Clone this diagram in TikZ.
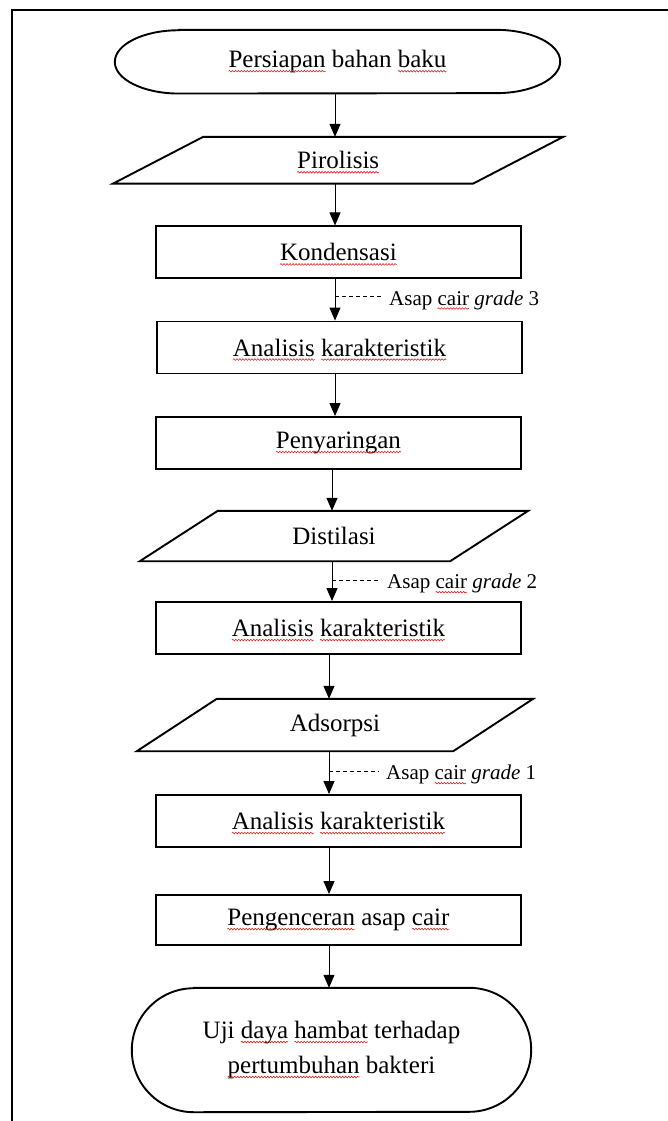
\documentclass[tikz,border=0pt]{standalone}
\usepackage{fontspec}
\setmainfont{Liberation Serif}
\usetikzlibrary{arrows.meta,decorations.pathmorphing,calc}
\definecolor{sqred}{RGB}{225,35,35}
\newlength\sqw
\newcommand\sq[1]{\settowidth\sqw{#1}\leavevmode\rlap{#1}\tikz[baseline=0pt]{\useasboundingbox (0pt,0pt) rectangle (\sqw,0pt);\draw[sqred,line width=0.6pt,decorate,decoration={snake,amplitude=0.8pt,segment length=3pt}] (0pt,-3.5pt) -- (\sqw,-3.5pt);}}
\begin{document}
\begin{tikzpicture}[x=1pt,y=-1pt,
  box/.style={draw,line width=1.9pt,minimum width=365pt,minimum height=52pt,inner sep=0pt,font=\fontsize{25}{30}\selectfont},
  txt/.style={inner sep=0pt,font=\fontsize{25}{30}\selectfont},
  shapeline/.style={line width=1.9pt,line join=miter},
  arr/.style={line width=1pt,-{Triangle[width=11pt,length=13pt]}},
  lbl/.style={inner sep=0pt,font=\fontsize{21}{25}\selectfont},
  dline/.style={line width=0.9pt,dash pattern=on 4pt off 3pt}]
\useasboundingbox (0,0) rectangle (668,1121);
\draw[line width=2pt] (12,1121) -- (12,10) -- (668,10);
% columns for arrows
\coordinate (c335) at (335,0);
\coordinate (c332) at (332,0);
\coordinate (c329) at (329,0);
% terminal 1
\node[txt,minimum width=445pt,minimum height=63.3pt] (t1) at (337.5,61.7) {\sq{Persiapan} bahan \sq{baku}};
\draw[shapeline] ([xshift=64pt]t1.north west) -- ([xshift=-64pt]t1.north east)
  arc[start angle=90,end angle=-90,x radius=64pt,y radius=31.65pt]
  -- ([xshift=64pt]t1.south west)
  arc[start angle=270,end angle=90,x radius=64pt,y radius=31.65pt] -- cycle;
% Pirolisis
\node[txt,minimum width=449.7pt,minimum height=46.3pt] (pir) at (338.2,160.2) {\sq{Pirolisis}};
\draw[shapeline] ([xshift=90pt]pir.north west) -- (pir.north east) -- ([xshift=-90pt]pir.south east) -- (pir.south west) -- cycle;
% boxes
\node[box] (kon) at (338.4,252.4) {\sq{Kondensasi}};
\node[box] (an1) at (339.5,347.5) {\sq{Analisis} \sq{karakteristik}};
\node[box] (pen) at (338.4,443) {\sq{Penyaringan}};
\node[txt,minimum width=388pt,minimum height=50pt] (dis) at (334,536) {Distilasi};
\draw[shapeline] ([xshift=78pt]dis.north west) -- (dis.north east) -- ([xshift=-78pt]dis.south east) -- (dis.south west) -- cycle;
\node[box] (an2) at (338.4,628) {\sq{Analisis} \sq{karakteristik}};
\node[txt,minimum width=396pt,minimum height=52pt] (ads) at (335,725) {Adsorpsi};
\draw[shapeline] ([xshift=80pt]ads.north west) -- (ads.north east) -- ([xshift=-80pt]ads.south east) -- (ads.south west) -- cycle;
\node[box] (an3) at (338.4,821) {\sq{Analisis} \sq{karakteristik}};
\node[box,minimum height=50pt] (peng) at (338.4,920) {\sq{Pengenceran} asap \sq{cair}};
% terminal 2
\node[txt,minimum width=399pt,minimum height=124pt,align=center,font=\fontsize{25}{35}\selectfont] (t2) at (331.5,1050) {Uji \sq{daya} \sq{hambat} terhadap\\\sq{pertumbuhan} bakteri};
\draw[shapeline] ([xshift=62pt]t2.north west) -- ([xshift=-62pt]t2.north east)
  arc[start angle=90,end angle=-90,x radius=62pt,y radius=62pt]
  -- ([xshift=62pt]t2.south west)
  arc[start angle=270,end angle=90,x radius=62pt,y radius=62pt] -- cycle;
% labels
\node[lbl,anchor=base west] (g3) at (389,305) {Asap \sq{cair} \textit{grade} 3};
\coordinate (d3) at (335,296.7);
\draw[dline] (d3) -- ($(g3.west |- d3)+(-6,0)$);
\node[lbl,anchor=base west] (g2) at (387,588.7) {Asap \sq{cair} \textit{grade} 2};
\coordinate (d2) at (332,580.7);
\draw[dline] (d2) -- ($(g2.west |- d2)+(-8,0)$);
\node[lbl,anchor=base west] (g1) at (386,779.7) {Asap \sq{cair} \textit{grade} 1};
\coordinate (d1) at (329,771.7);
\draw[dline] (d1) -- ($(g1.west |- d1)+(-7,0)$);
% arrows
\draw[arr] (t1.south -| c335) -- (pir.north -| c335);
\draw[arr] (pir.south -| c335) -- (kon.north -| c335);
\draw[arr] (kon.south -| c335) -- (an1.north -| c335);
\draw[arr] (an1.south -| c335) -- (pen.north -| c335);
\draw[arr] (pen.south -| c332) -- (dis.north -| c332);
\draw[arr] (dis.south -| c332) -- (an2.north -| c332);
\draw[arr] (an2.south -| c329) -- (ads.north -| c329);
\draw[arr] (ads.south -| c329) -- (an3.north -| c329);
\draw[arr] (an3.south -| c329) -- (peng.north -| c329);
\draw[arr] (peng.south -| c329) -- (t2.north -| c329);
\end{tikzpicture}
\end{document}
